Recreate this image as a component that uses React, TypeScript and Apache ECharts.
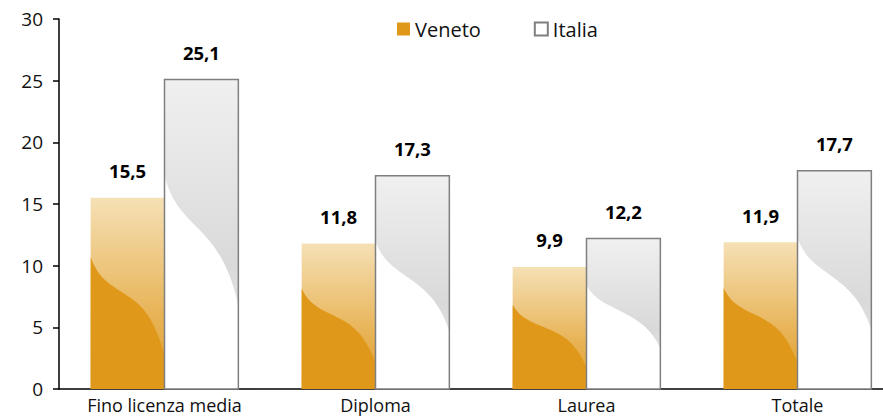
import React, { useEffect, useRef } from "react";
import * as echarts from "echarts";

const categories = ["Fino licenza media", "Diploma", "Laurea", "Totale"];
const venetoValues = [15.5, 11.8, 9.9, 11.9];
const italiaValues = [25.1, 17.3, 12.2, 17.7];
const seriesNames = ["Veneto", "Italia"];
const yTicks = { min: 0, max: 30, interval: 5 };

const FONT = "'Open Sans', 'Noto Sans', sans-serif";

function makeRender(side: number, kind: "veneto" | "italia") {
  return (params: any, api: any) => {
    const idx = api.value(0);
    const val = api.value(1);
    const top = api.coord([idx, val]);
    const base = api.coord([idx, 0]);
    const band = api.size([1, 0])[0];
    const w = band * 0.35;
    const x0 = side < 0 ? top[0] - w : top[0];
    const y0 = top[1];
    const h = base[1] - top[1];
    const X = (f: number) => x0 + f * w;
    const Y = (f: number) => y0 + f * h;
    let d: string;
    if (kind === "veneto") {
      d = `M ${X(0)} ${Y(0.31)} C ${X(0.1)} ${Y(0.42)} ${X(0.25)} ${Y(0.45)} ${X(0.45)} ${Y(0.5)} C ${X(0.7)} ${Y(0.56)} ${X(0.85)} ${Y(0.62)} ${X(1)} ${Y(0.82)} L ${X(1)} ${Y(1)} L ${X(0)} ${Y(1)} Z`;
    } else {
      d = `M ${X(0)} ${Y(0.31)} C ${X(0.1)} ${Y(0.4)} ${X(0.25)} ${Y(0.43)} ${X(0.45)} ${Y(0.48)} C ${X(0.7)} ${Y(0.54)} ${X(0.88)} ${Y(0.6)} ${X(1)} ${Y(0.73)} L ${X(1)} ${Y(1)} L ${X(0)} ${Y(1)} Z`;
    }
    const bgFill =
      kind === "veneto"
        ? new echarts.graphic.LinearGradient(0, 0, 0, 1, [
            { offset: 0, color: "#F5E0B5" },
            { offset: 0.6, color: "#E8B458" },
            { offset: 1, color: "#E19C25" },
          ])
        : new echarts.graphic.LinearGradient(0, 0, 0, 1, [
            { offset: 0, color: "#F0F0F0" },
            { offset: 0.6, color: "#D9D9D9" },
            { offset: 1, color: "#F2F2F2" },
          ]);
    const fgFill = kind === "veneto" ? "#E0981A" : "#FFFFFF";
    const children: any[] = [
      { type: "rect", shape: { x: x0, y: y0, width: w, height: h }, style: { fill: bgFill, stroke: "none" } },
      { type: "path", shape: { pathData: d }, style: { fill: fgFill, stroke: "none" } },
    ];
    if (kind === "italia") {
      children.push({
        type: "rect",
        shape: { x: x0, y: y0, width: w, height: h },
        style: { fill: "none", stroke: "#7F7F7F", lineWidth: 1.5 },
      });
    }
    children.push({
      type: "text",
      style: {
        text: String(val).replace(".", ","),
        x: x0 + w / 2,
        y: y0 - 27,
        align: "center",
        verticalAlign: "middle",
        fontSize: 18.5,
        fontWeight: "bold",
        fontFamily: FONT,
        fill: "#000",
      },
    });
    return { type: "group", children };
  };
}

export default function App() {
  const ref = useRef<HTMLDivElement>(null);
  useEffect(() => {
    if (!ref.current) return;
    const chart = echarts.init(ref.current, undefined, { renderer: "svg" });
    chart.setOption({
      animation: false,
      grid: { left: 59, top: 19, height: 370, width: 844, outerBoundsMode: "none", containLabel: false },
      legend: {
        left: 392,
        top: 14,
        itemWidth: 13,
        itemHeight: 13,
        itemGap: 53,
        icon: "rect",
        textStyle: { fontSize: 20, fontFamily: FONT, color: "#111", padding: [0, 0, 0, 0] },
        data: seriesNames,
      },
      xAxis: {
        type: "category",
        data: categories,
        axisLine: { lineStyle: { color: "#000", width: 1.5 } },
        axisTick: { show: false },
        axisLabel: { fontSize: 18, interval: 0, hideOverlap: false, fontFamily: FONT, color: "#111", margin: 7 },
      },
      yAxis: {
        type: "value",
        min: yTicks.min,
        max: yTicks.max,
        interval: yTicks.interval,
        axisLine: { show: true, lineStyle: { color: "#000", width: 1.5 } },
        axisTick: { show: true, length: 6, lineStyle: { color: "#000", width: 1.5 } },
        splitLine: { show: false },
        axisLabel: { fontSize: 19, fontFamily: FONT, color: "#111", margin: 16 },
      },
      series: [
        {
          name: seriesNames[0],
          type: "custom",
          itemStyle: { color: "#E0981A" },
          renderItem: makeRender(-1, "veneto"),
          data: venetoValues.map((v, i) => [i, v]),
          encode: { x: 0, y: 1 },
        },
        {
          name: seriesNames[1],
          type: "custom",
          itemStyle: { color: "#FFFFFF", borderColor: "#7F7F7F", borderWidth: 1.5 },
          renderItem: makeRender(1, "italia"),
          data: italiaValues.map((v, i) => [i, v]),
          encode: { x: 0, y: 1 },
        },
      ],
    });
    return () => chart.dispose();
  }, []);
  return <div ref={ref} style={{ width: 883, height: 417, position: "absolute", left: 0, top: 0 }} />;
}
